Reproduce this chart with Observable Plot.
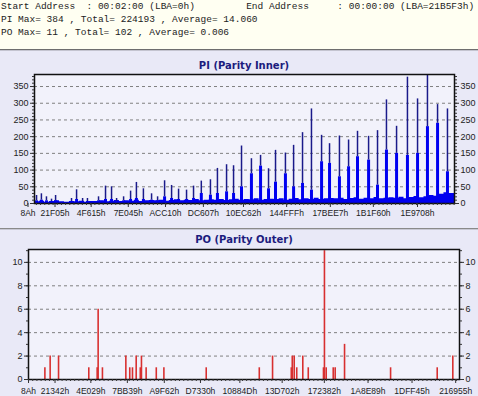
<!DOCTYPE html>
<html><head><meta charset="utf-8">
<script src="https://cdn.jsdelivr.net/npm/d3@7"></script>
<script src="https://cdn.jsdelivr.net/npm/@observablehq/plot@0.6"></script>
<style>
body{margin:0;width:478px;height:396px;position:relative;overflow:hidden;background:#e9e9f7;}
#hdr{position:absolute;left:0;top:0;width:477px;height:49px;padding-left:1px;background:#fffff2;font-family:"Liberation Mono",monospace;font-size:9.5px;line-height:13px;color:#222;white-space:pre;}
.sep{position:absolute;left:0;width:478px;height:1px;}
.ttl{position:absolute;left:0;width:488px;text-align:center;font-family:"DejaVu Sans",Verdana,sans-serif;font-weight:bold;font-size:10px;color:#1c1c7e;line-height:12px;}
.pl{position:absolute;left:0;}
</style></head>
<body>
<div id="hdr"></div>
<div class="sep" style="top:49px;background:#6e6e6e"></div>
<div class="sep" style="top:50px;background:#c4c4d0"></div>
<div class="ttl" style="top:60px">PI (Parity Inner)</div>
<div class="pl" id="pi" style="top:51px"></div>
<div class="sep" style="top:228px;background:#8a8a8a"></div>
<div class="sep" style="top:229px;background:#c8c8d4"></div>
<div class="ttl" style="top:234px">PO (Parity Outer)</div>
<div class="pl" id="po" style="top:230px"></div>
<script>
// ---- header text ----
const headerLines = [
  "Start Address  : 00:02:00 (LBA=0h)         End Address     : 00:00:00 (LBA=21B5F3h)",
  "PI Max= 384 , Total= 224193 , Average= 14.060",
  "PO Max= 11 , Total= 102 , Average= 0.006"
];
const endLBA = 0x21B5F3;
const minorStepLBA = 21500;

// ---- PI data ----
const piTickLabels = ["8Ah","21F05h","4F615h","7E045h","ACC10h","DC607h","10EC62h","144FFFh","17BEE7h","1B1F60h","1E9708h"];
const piYTicks = [0,50,100,150,200,250,300,350];
const piSpikeKLBA = [44,69,95,121,142,224,250,281,306,363,399,430,456,492,528,558,594,636,667,703,739,775,816,852,892,939,975,1022,1058,1099,1150,1197,1238,1274,1325,1367,1413,1459,1511,1552,1603,1650,1696,1753,1799,1845,1897,1953,2005,2056,2108,2159];
const piSpikeMax = [24,29,20,13,24,15,41,15,15,20,52,50,15,20,37,63,44,29,20,68,54,43,40,52,67,71,105,116,113,172,134,144,104,159,151,174,212,283,204,179,202,190,216,201,218,310,231,378,313,384,296,283];
const piSpikeBlue = [8,10,8,6,8,6,12,6,6,8,12,12,6,8,12,15,12,10,8,20,15,12,12,15,30,25,30,35,30,50,89,112,44,64,89,50,60,40,125,120,80,110,140,130,55,160,150,144,150,230,240,95];
const piFloorStartKLBA = 33.5, piFloorStepKLBA = 25.7;
const piFloor = [5,7,4,6,8,5,4,6,5,7,4,6, 6,8,5,7,9,6,8,7,10,6,8,9, 8,10,7,9,11,8,10,9,12,8,10,11,
  10,12,9,11,13,10,12,11,14,10,12,13, 12,14,10,13,15,11,14,12,16,12,14,15,
  14,16,12,15,17,13,16,14,18,14,16,17, 16,19,14,18,21,17,20,24,22,28,32,30];

// ---- PO data ----
const poTickLabels = ["8Ah","21342h","4E029h","7BB39h","A9F62h","D7330h","10884Dh","13D702h","172382h","1A8E89h","1DFF45h","216955h"];
const poYTicks = [0,2,4,6,8,10];
const poBarKLBA = [84,111,154,309,352,357,379,499,519,533,552,573,579,603,655,694,911,1183,1251,1347,1352,1362,1375,1406,1434,1512,1517,1526,1562,1572,1620,1856,2095,2175];
const poBarVal  = [1,2,2,1,1,6,1,2,1,1,2,1,2,1,1,1,1,1,2,1,2,2,1,2,1,1,11,1,1,1,3,1,1,2];

document.getElementById("hdr").textContent = headerLines.join("\n");

const hex = s => parseInt(s.replace(/h$/, ""), 16);
const lab = labels => { const m = new Map(labels.map(s => [hex(s), s])); return d => m.get(d) ?? ""; };

const piSpikes = piSpikeKLBA.map((k, i) => ({x: k * 1000, max: piSpikeMax[i], blue: piSpikeBlue[i]}));
const piFloorData = piFloor.map((v, i) => ({x: (piFloorStartKLBA + i * piFloorStepKLBA) * 1000, y: v}));
piFloorData.push({x: 2195196, y: piFloor[piFloor.length - 1]});

const axisFont = "Liberation Sans, Arial, sans-serif";
const common = {label: null, stroke: "#333", fill: "#222"};
const piXDomain = [33455, 2195196];
const piPlot = Plot.plot({
  width: 478, height: 177,
  marginTop: 23, marginBottom: 25, marginLeft: 34, marginRight: 24,
  x: {domain: piXDomain, axis: null},
  y: {domain: [0, 386], axis: null},
  style: {background: "transparent", fontFamily: axisFont, color: "#222", overflow: "visible"},
  marks: [
    Plot.frame({fill: "#f2f2fb", stroke: null}),
    Plot.gridY(piYTicks.filter(d => d > 0), {stroke: "#808080", strokeOpacity: 1, strokeDasharray: "3,3"}),
    Plot.areaY(piFloorData, {x: "x", y: "y", curve: "step-after", fill: "#0000f0"}),
    Plot.ruleX(piSpikes, {x: "x", y1: 0, y2: "blue", stroke: "#0000f0", strokeWidth: 3}),
    Plot.ruleX(piSpikes, {x: "x", y1: "blue", y2: "max", stroke: "#1a1a8a", strokeWidth: 1.5}),
    Plot.frame({stroke: "#111", strokeWidth: 1.5}),
    Plot.axisY({...common, anchor: "left", ticks: d3.range(0, 386, 10), tickSize: 2, tickFormat: () => ""}),
    Plot.axisY({...common, anchor: "right", ticks: d3.range(0, 386, 10), tickSize: 2, tickFormat: () => ""}),
    Plot.axisY({...common, anchor: "left", ticks: piYTicks, tickSize: 4, tickPadding: 2, fontSize: 9}),
    Plot.axisY({...common, anchor: "right", ticks: piYTicks, tickSize: 4, tickPadding: 2, fontSize: 9}),
    Plot.axisX({...common, anchor: "bottom", ticks: d3.range(hex("8Ah"), piXDomain[1], minorStepLBA).filter(d => d >= piXDomain[0]), tickSize: 2, tickFormat: () => ""}),
    Plot.axisX({...common, anchor: "bottom", ticks: piTickLabels.map(hex), tickFormat: lab(piTickLabels), tickSize: 4, tickPadding: 2, fontSize: 8.5})
  ]
});
document.getElementById("pi").append(piPlot);

const poBars = poBarKLBA.map((k, i) => ({x: k * 1000, v: poBarVal[i]}));
const poPlot = Plot.plot({
  width: 478, height: 166,
  marginTop: 19, marginBottom: 17, marginLeft: 28, marginRight: 19,
  x: {domain: [0, endLBA], axis: null},
  y: {domain: [0, 11.1], axis: null},
  style: {background: "transparent", fontFamily: axisFont, color: "#222", overflow: "visible"},
  marks: [
    Plot.frame({fill: "#f2f2fb", stroke: null}),
    Plot.gridY(poYTicks.filter(d => d > 0), {stroke: "#808080", strokeOpacity: 1, strokeDasharray: "3,3"}),
    Plot.ruleX(poBars, {x: "x", y1: 0, y2: "v", stroke: "#d83030", strokeWidth: 1.6}),
    Plot.frame({stroke: "#111", strokeWidth: 1.5}),
    Plot.axisY({...common, anchor: "left", ticks: d3.range(0, 11.1, 1), tickSize: 2, tickFormat: () => ""}),
    Plot.axisY({...common, anchor: "right", ticks: d3.range(0, 11.1, 1), tickSize: 2, tickFormat: () => ""}),
    Plot.axisY({...common, anchor: "left", ticks: poYTicks, tickSize: 4, tickPadding: 2, fontSize: 9}),
    Plot.axisY({...common, anchor: "right", ticks: poYTicks, tickSize: 4, tickPadding: 2, fontSize: 9}),
    Plot.axisX({...common, anchor: "bottom", ticks: d3.range(hex("8Ah"), endLBA, minorStepLBA), tickSize: 2, tickFormat: () => ""}),
    Plot.axisX({...common, anchor: "bottom", ticks: poTickLabels.map(hex), tickFormat: lab(poTickLabels), tickSize: 4, tickPadding: 4, fontSize: 8.5})
  ]
});
document.getElementById("po").append(poPlot);
</script>
</body></html>
